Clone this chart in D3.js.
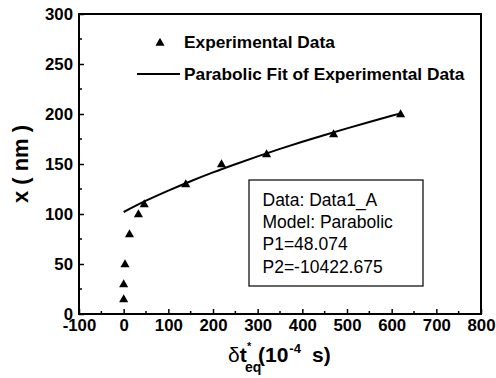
<!DOCTYPE html>
<html><head><meta charset="utf-8">
<script src="https://cdn.jsdelivr.net/npm/d3@7"></script>
<style>body{margin:0;background:#fff}svg{display:block}</style>
</head><body>
<svg id="c" width="496" height="378"></svg>
<script>
// Experimental data
const expT = [0, 0, 3, 13, 33, 46, 139, 219, 320, 470, 620];
const expX = [15, 30, 50, 80, 100, 110, 130, 150, 160, 180, 200];
// Parabolic fit
const fitT = [0, 50, 100, 150, 200, 250, 300, 350, 400, 450, 500, 550, 600, 620];
const fitX = [102, 113.3, 123.4, 132.8, 141.6, 149.8, 157.6, 165.1, 172.2, 179, 185.6, 192, 198.2, 200.6];
const xTicks = [-100, 0, 100, 200, 300, 400, 500, 600, 700, 800];
const yTicks = [0, 50, 100, 150, 200, 250, 300];
const legendLabels = ["Experimental Data", "Parabolic Fit of Experimental Data"];
const boxLines = ["Data: Data1_A", "Model: Parabolic", "P1=48.074", "P2=-10422.675"];

const svg = d3.select("#c");
const L = 79, R = 481, T = 14, B = 314;
const x = d3.scaleLinear().domain([-100, 800]).range([L, R]);
const y = d3.scaleLinear().domain([0, 300]).range([B, T]);
const font = "Liberation Sans, Arial, Helvetica, sans-serif";

// minor ticks
const xMinor = d3.range(-50, 800, 100);
const yMinor = d3.range(25, 300, 50);
svg.append("g").selectAll("line").data(xMinor).join("line")
  .attr("x1", d => x(d)).attr("x2", d => x(d)).attr("y1", B).attr("y2", B - 3)
  .attr("stroke", "#000").attr("stroke-width", 1.5);
svg.append("g").selectAll("line").data(yMinor).join("line")
  .attr("x1", L).attr("x2", L + 3).attr("y1", d => y(d)).attr("y2", d => y(d))
  .attr("stroke", "#000").attr("stroke-width", 1.5);

// axes
const fmt = d => String(d);
const xAxis = d3.axisBottom(x).tickValues(xTicks).tickFormat(fmt).tickSizeInner(-5).tickSizeOuter(0);
const gx = svg.append("g").attr("transform", `translate(0,${B})`).call(xAxis);
const yAxis = d3.axisLeft(y).tickValues(yTicks).tickFormat(fmt).tickSizeInner(-5).tickSizeOuter(0);
const gy = svg.append("g").attr("transform", `translate(${L},0)`).call(yAxis);
[gx, gy].forEach(g => {
  g.select(".domain").remove();
  g.selectAll(".tick line").attr("stroke-width", 1.5);
  g.selectAll(".tick text").attr("font-family", font).attr("font-weight", "bold")
    .attr("font-size", 16.8).attr("fill", "#000");
});
gx.selectAll(".tick text").attr("dy", null).attr("y", 17);
gy.selectAll(".tick text").attr("x", -6).attr("dy", "0.3em");

// frame
svg.append("rect").attr("x", L).attr("y", T).attr("width", R - L).attr("height", B - T)
  .attr("fill", "none").attr("stroke", "#000").attr("stroke-width", 2);

// fit line
const line = d3.line().x(d => x(d[0])).y(d => y(d[1])).curve(d3.curveMonotoneX);
svg.append("path").datum(fitT.map((t, i) => [t, fitX[i]])).attr("d", line)
  .attr("fill", "none").attr("stroke", "#000").attr("stroke-width", 2);

// triangles
const tri = d3.symbol().type(d3.symbolTriangle).size(36);
svg.append("g").selectAll("path").data(expT.map((t, i) => [t, expX[i]])).join("path")
  .attr("d", tri).attr("transform", d => `translate(${x(d[0])},${y(d[1]) + 0.5})`).attr("fill", "#000");

// legend
svg.append("path").attr("d", tri).attr("transform", "translate(160,43)").attr("fill", "#000");
svg.append("line").attr("x1", 137).attr("x2", 180).attr("y1", 74).attr("y2", 74)
  .attr("stroke", "#000").attr("stroke-width", 2);
svg.append("g").selectAll("text").data(legendLabels).join("text")
  .attr("x", 184).attr("y", (d, i) => 48 + i * 31.5)
  .attr("font-family", font).attr("font-weight", "bold").attr("font-size", 17.3).text(d => d);

// info box
svg.append("rect").attr("x", 249).attr("y", 180).attr("width", 174).attr("height", 106)
  .attr("fill", "#fff").attr("stroke", "#000").attr("stroke-width", 1.2);
svg.append("g").selectAll("text").data(boxLines).join("text")
  .attr("x", 262.5).attr("y", (d, i) => 206 + i * 22.2)
  .attr("font-family", font).attr("font-size", 17.5).text(d => d);

// y label
svg.append("text").attr("transform", "translate(28,164) rotate(-90)").attr("text-anchor", "middle")
  .attr("font-family", font).attr("font-weight", "bold").attr("font-size", 22).text("x ( nm )");

// x label
const xl = svg.append("text").attr("y", 362)
  .attr("font-family", font).attr("font-weight", "bold").attr("font-size", 21);
xl.append("tspan").attr("x", 228).attr("font-weight", "normal").text("δ");
xl.append("tspan").text("t");
xl.append("tspan").attr("x", 247).attr("y", 350).attr("font-size", 11).text("*");
xl.append("tspan").attr("x", 245).attr("y", 372).attr("font-size", 14).text("eq");
xl.append("tspan").attr("x", 258).attr("y", 362).text("(10");
xl.append("tspan").attr("dx", 1).attr("y", 353).attr("font-size", 13).text("-4");
xl.append("tspan").attr("x", 312).attr("y", 362).text("s)");
</script>
</body></html>
